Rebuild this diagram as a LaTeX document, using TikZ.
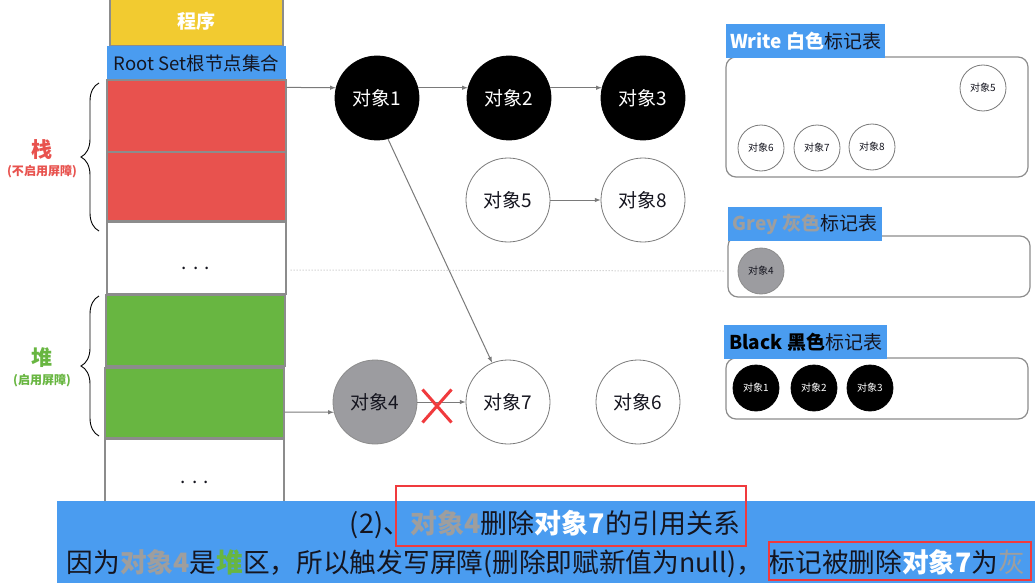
\documentclass[tikz,border=0pt]{standalone}
\usepackage{fontspec}
\setmainfont{Noto Sans CJK SC}
\usetikzlibrary{shapes.misc}
\usetikzlibrary{arrows}
\usetikzlibrary{decorations.pathreplacing}
\usepackage{xcolor}
\definecolor{rootblue}{HTML}{4A9CF0}
\definecolor{progyellow}{HTML}{F2CB30}
\definecolor{stackred}{HTML}{E8524E}
\definecolor{heapgreen}{HTML}{68B641}
\definecolor{objgrey}{HTML}{9C9CA0}
\definecolor{txtgrey}{HTML}{9E9E9E}
\definecolor{linegrey}{HTML}{7A7A7A}
\definecolor{framegrey}{HTML}{8C8C8C}
\definecolor{inkdark}{HTML}{15151F}
\definecolor{markred}{HTML}{F03A3D}
\newcommand{\pxfont}[1]{\fontsize{#1}{#1}\selectfont}

\begin{document}
\begin{tikzpicture}
[x=1pt, y=-1pt,
every node/.style = {align=center, inner sep=0pt, text=inkdark}]
\tikzstyle{cell} = [rectangle, draw=framegrey, line width=1.2pt, minimum width=179pt]
\tikzstyle{bigobj} = [circle, draw=linegrey, line width=0.8pt, minimum size=84pt, font=\pxfont{19}]
\tikzstyle{smallobj} = [circle, draw=linegrey, line width=0.8pt, minimum size=46pt, font=\pxfont{10}]
\tikzstyle{blackobj} = [fill=black, draw=black, text=white]
\tikzstyle{greyobj} = [fill=objgrey, draw=framegrey]
\tikzstyle{tablebox} = [rectangle, rounded corners=10pt, draw=framegrey, line width=1.2pt]
\tikzstyle{tablelabel} = [rectangle, fill=rootblue, minimum height=34pt, font=\pxfont{19}, anchor=west]
\tikzstyle{ref} = [draw=linegrey, line width=1pt, -latex]
\tikzstyle{markbox} = [rectangle, draw=markred, line width=2pt]
\tikzstyle{curly} = [draw, line width=0.9pt, decorate, decoration={brace, amplitude=18pt}]

\useasboundingbox (0,0) rectangle (1035,583);
\fill[white] (0,0) rectangle (1035,583);

% program and root set
\node[cell, fill=progyellow, minimum width=173pt, minimum height=50pt, text=white, font=\pxfont{19}\bfseries] (prog) at (196.5,21) {程序};
\node[rectangle, fill=rootblue, minimum width=179pt, minimum height=34pt, font=\pxfont{18.5}] (root) at (196.5,63) {Root Set根节点集合};
\node[cell, fill=stackred, minimum height=72pt] (r1) at (196.5,116) {};
\node[cell, fill=stackred, minimum height=69pt] (r2) at (196.5,186.5) {};
\node[cell, fill=white, minimum height=72pt] (w1) at (196.5,258) {};
\node[font=\pxfont{19}] (dots1) at (196,268) {.\,\,.\,\,.};
\node[cell, fill=heapgreen, minimum height=71pt] (g1) at (195.5,330.5) {};
\node[cell, fill=heapgreen, minimum height=70pt] (g2) at (194.5,403) {};
\node[cell, fill=white, minimum height=70pt] (w2) at (194.5,474) {};
\node[font=\pxfont{19}] (dots2) at (195,482) {.\,\,.\,\,.};

% stack / heap
\coordinate (stkbot) at (99,231);
\coordinate (stktop) at (99,83);
\coordinate (heapbot) at (99,436);
\coordinate (heaptop) at (99,296);
\draw[curly] (stkbot) -- (stktop);
\draw[curly] (heapbot) -- (heaptop);
\node[font=\pxfont{21}\bfseries, text=stackred] (stk) at (42,150) {栈};
\node[font=\pxfont{12}\bfseries, text=stackred] (stknote) at (42,172) {(不启用屏障)};
\node[font=\pxfont{21}\bfseries, text=heapgreen] (heap) at (42,358) {堆};
\node[font=\pxfont{12}\bfseries, text=heapgreen] (heapnote) at (42,381) {(启用屏障)};

% objects
\node[bigobj, blackobj] (o1) at (377,98) {对象1};
\node[bigobj, blackobj] (o2) at (509,98) {对象2};
\node[bigobj, blackobj] (o3) at (643,98) {对象3};
\node[bigobj] (o5) at (508,200) {对象5};
\node[bigobj] (o8) at (643,200) {对象8};
\node[bigobj, greyobj] (o4) at (375,402) {对象4};
\node[bigobj] (o7) at (508,402) {对象7};
\node[bigobj] (o6) at (638,402) {对象6};

\draw[ref] ([yshift=-8pt]r1.north east) -- (o1.166);
\draw[ref] (o1.14) -- (o2.166);
\draw[ref] (o2.14) -- (o3.166);
\draw[ref] (o5) -- (o8);
\draw[ref] (o1.285) -- (o7.112);
\draw[ref] ([yshift=-9pt]g2.east) -- (o4.194);
\draw[ref] (o4) -- (o7);
\node[draw=markred, cross out, line width=3pt, minimum width=26pt, minimum height=30pt] (cut) at (437,406) {};

% mark tables
\node[tablebox, minimum width=302pt, minimum height=120pt] (wbox) at (877,117) {};
\node[tablelabel, minimum width=159pt] (wlab) at (726,41) {\textcolor{white}{\bfseries Write 白色}标记表};
\node[tablebox, minimum width=302pt, minimum height=61pt] (gbox) at (879,266.5) {};
\node[tablelabel, minimum width=154pt] (glab) at (728,224) {\textcolor{txtgrey}{\bfseries Grey 灰色}标记表};
\node[tablebox, minimum width=302pt, minimum height=61pt] (bbox) at (877,388.5) {};
\node[tablelabel, minimum width=163pt] (blab) at (724,342) {\textcolor{black}{\bfseries Black 黑色}标记表};

\node[smallobj] (s5) at (983,88) {对象5};
\node[smallobj] (s6) at (761,148) {对象6};
\node[smallobj] (s7) at (817,148) {对象7};
\node[smallobj] (s8) at (872,147) {对象8};
\node[smallobj, greyobj] (s4) at (761,271) {对象4};
\node[smallobj, blackobj] (b1) at (756,388) {对象1};
\node[smallobj, blackobj] (b2) at (814,388) {对象2};
\node[smallobj, blackobj] (b3) at (870,388) {对象3};

\draw[draw=gray!50, dotted, line width=1pt] ([xshift=4pt,yshift=-12pt]w1.east) -- ([xshift=-14pt]s4.west);

% caption
\node[rectangle, fill=rootblue, minimum width=978pt, minimum height=82pt, anchor=north west] (band) at (57,501) {};
\node[font=\pxfont{27}] (line1) at (545,525) {(2)、\textcolor{txtgrey}{\bfseries 对象4}删除\textcolor{white}{\bfseries 对象7}的引用关系};
\node[font=\pxfont{26.7}] (line2) at (546,564) {因为\textcolor{txtgrey}{\bfseries 对象4}是\textcolor{heapgreen}{\bfseries 堆}区，所以触发写屏障(删除即赋新值为null)，\ 标记被删除\textcolor{white}{\bfseries 对象7}为\textcolor{txtgrey}{灰}};
\node[markbox, minimum width=350pt, minimum height=60pt] (mark1) at (571,515.5) {};
\node[markbox, minimum width=262pt, minimum height=38pt] (mark2) at (900,561) {};

\end{tikzpicture}
\end{document}
